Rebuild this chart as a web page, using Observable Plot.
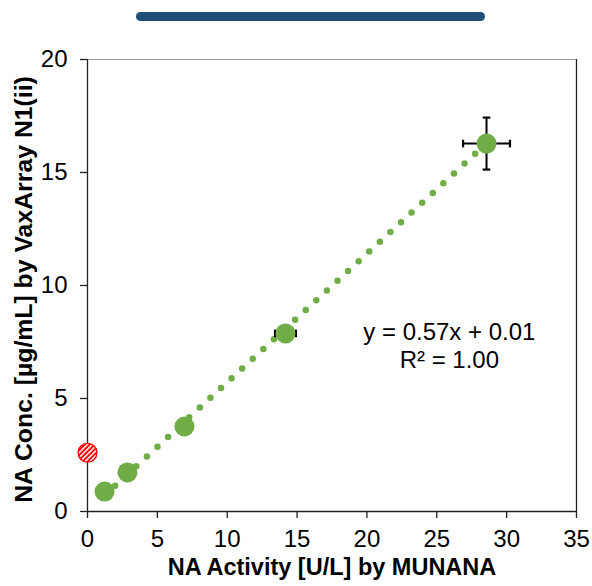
<!DOCTYPE html>
<html>
<head>
<meta charset="utf-8">
<script src="https://cdn.jsdelivr.net/npm/d3@7"></script>
<script src="https://cdn.jsdelivr.net/npm/@observablehq/plot@0.6"></script>
<style>
  html, body { margin: 0; padding: 0; background: #fff; }
  #wrap { position: relative; width: 592px; height: 586px; }
  #bar { position: absolute; left: 136px; top: 12px; width: 349px; height: 9px; border-radius: 4.5px; background: #1f4e79; }
  #chart { position: absolute; left: 0; top: 0; }
</style>
</head>
<body>
<div id="wrap"><div id="chart"></div><div id="bar"></div></div>
<script>
// Data
const xVals = [1.22, 2.86, 6.94, 14.17, 28.56];
const yVals = [0.88, 1.73, 3.76, 7.88, 16.28];
const xErr  = [0, 0, 0, 0.75, 1.68];
const yErr  = [0, 0, 0, 0.2, 1.15];

const redX = [0];
const redY = [2.6];

const trendX = [1.22, 28.56];
const trendY = [0.71, 16.29];

const xTicks = [0, 5, 10, 15, 20, 25, 30, 35];
const yTicks = [0, 5, 10, 15, 20];

const eqText = ["y = 0.57x + 0.01", "R² = 1.00"];
const eqX = [25.9, 25.9];
const eqY = [7.95, 6.7];

const xTitle = "NA Activity [U/L] by MUNANA";
const yTitle = "NA Conc. [µg/mL] by VaxArray N1(ii)";

const pts = xVals.map((x, i) => ({x, y: yVals[i], ex: xErr[i], ey: yErr[i]}));
const errPts = pts.filter(d => d.ex > 0 || d.ey > 0);
const red = redX.map((x, i) => ({x, y: redY[i]}));
const trend = trendX.map((x, i) => ({x, y: trendY[i]}));
const eq = eqText.map((t, i) => ({t, x: eqX[i], y: eqY[i]}));

const hcap = {draw(ctx, size) { const r = Math.sqrt(size / Math.PI); ctx.moveTo(-r, 0); ctx.lineTo(r, 0); }};
const vcap = {draw(ctx, size) { const r = Math.sqrt(size / Math.PI); ctx.moveTo(0, -r); ctx.lineTo(0, r); }};

const green = "#70ad47";

const plot = Plot.plot({
  width: 592,
  height: 586,
  marginLeft: 87,
  marginRight: 16,
  marginTop: 59,
  marginBottom: 75,
  style: {fontFamily: "'Liberation Sans', Arial, sans-serif", fontSize: "24px", color: "#000", background: "#fff"},
  x: {domain: [0, 35]},
  y: {domain: [0, 20]},
  marks: [
    Plot.ruleY([20], {stroke: "#999", strokeWidth: 1}),
    Plot.ruleX([35], {stroke: "#222", strokeWidth: 1.3}),
    Plot.axisX({ticks: xTicks, tickSize: 7, tickPadding: 11, label: null, stroke: "#222", strokeWidth: 1.3, fontSize: 24}),
    Plot.axisY({ticks: yTicks, tickSize: 7, tickPadding: 13, label: null, stroke: "#222", strokeWidth: 1.3, fontSize: 24}),
    Plot.ruleY([0], {stroke: "#222", strokeWidth: 1.3}),
    Plot.ruleX([0], {stroke: "#222", strokeWidth: 1.3}),
    Plot.line(trend, {x: "x", y: "y", stroke: green, strokeWidth: 6.5, strokeLinecap: "round", strokeDasharray: "0 14.4"}),
    // error bars
    Plot.link(errPts, {x1: d => d.x - d.ex, x2: d => d.x + d.ex, y1: "y", y2: "y", stroke: "#000", strokeWidth: 2}),
    Plot.link(errPts, {x1: "x", x2: "x", y1: d => d.y - d.ey, y2: d => d.y + d.ey, stroke: "#000", strokeWidth: 2}),
    Plot.dot(errPts, {x: d => d.x - d.ex, y: "y", symbol: vcap, r: 3.8, stroke: "#000", strokeWidth: 2.2}),
    Plot.dot(errPts, {x: d => d.x + d.ex, y: "y", symbol: vcap, r: 3.8, stroke: "#000", strokeWidth: 2.2}),
    Plot.dot(errPts.filter(d => d.ey * 22.6 > 10), {x: "x", y: d => d.y - d.ey, symbol: hcap, r: 3.8, stroke: "#000", strokeWidth: 2.2}),
    Plot.dot(errPts.filter(d => d.ey * 22.6 > 10), {x: "x", y: d => d.y + d.ey, symbol: hcap, r: 3.8, stroke: "#000", strokeWidth: 2.2}),
    Plot.dot(pts, {x: "x", y: "y", r: 10, fill: green, stroke: "none"}),
    Plot.dot(red, {x: "x", y: "y", r: 9.5, fill: "url(#redHatch)", stroke: "#ff0000", strokeWidth: 1.2}),
    Plot.text(eq, {x: "x", y: "y", text: "t", fontSize: 24, fill: "#000"}),
    Plot.text([xTitle], {frameAnchor: "bottom", dy: 63, fontSize: 23.5, fontWeight: "bold", fill: "#000"}),
    Plot.text([yTitle], {frameAnchor: "left", dx: -63, dy: 4, rotate: -90, textAnchor: "middle", fontSize: 24.8, fontWeight: "bold", fill: "#000"})
  ]
});

// hatch pattern for the red point
const ns = "http://www.w3.org/2000/svg";
const defs = document.createElementNS(ns, "defs");
const pat = document.createElementNS(ns, "pattern");
pat.setAttribute("id", "redHatch");
pat.setAttribute("patternUnits", "userSpaceOnUse");
pat.setAttribute("width", "3.5");
pat.setAttribute("height", "3.5");
pat.setAttribute("patternTransform", "rotate(45)");
const bg = document.createElementNS(ns, "rect");
bg.setAttribute("width", "3.5"); bg.setAttribute("height", "3.5"); bg.setAttribute("fill", "#ff0000");
const ln = document.createElementNS(ns, "rect");
ln.setAttribute("x", "0"); ln.setAttribute("y", "0"); ln.setAttribute("width", "1.5"); ln.setAttribute("height", "3.5"); ln.setAttribute("fill", "#ffffff");
pat.appendChild(bg); pat.appendChild(ln);
defs.appendChild(pat);
plot.insertBefore(defs, plot.firstChild);

document.getElementById("chart").appendChild(plot);
</script>
</body>
</html>
